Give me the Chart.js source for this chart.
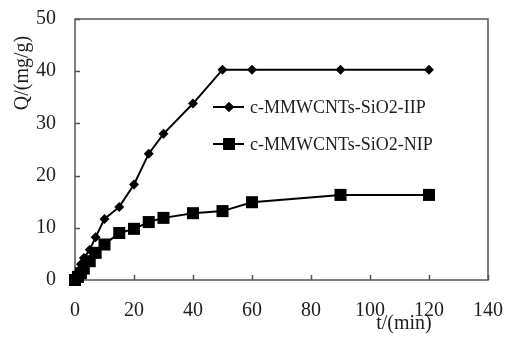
<!DOCTYPE html>
<html>
<head>
<meta charset="utf-8">
<script src="https://cdn.jsdelivr.net/npm/chart.js@4.4.1/dist/chart.umd.min.js"></script>
<style>
  html, body { margin: 0; padding: 0; background: #fff; }
  #wrap { width: 506px; height: 339px; }
</style>
</head>
<body>
<div id="wrap"><canvas id="kinChart" width="506" height="339"></canvas></div>
<script>
const times = [0, 1, 2, 3, 5, 7, 10, 15, 20, 25, 30, 40, 50, 60, 90, 120];
const iipValues = [0, 1.5, 3, 4.2, 5.8, 8.2, 11.7, 14, 18.3, 24.2, 28, 33.8, 40.3, 40.3, 40.3, 40.3];
const nipValues = [0, 0.6, 1.3, 2.2, 3.6, 5.2, 6.8, 9, 9.8, 11.1, 11.9, 12.8, 13.2, 14.9, 16.3, 16.3];
const seriesNames = ["c-MMWCNTs-SiO2-IIP", "c-MMWCNTs-SiO2-NIP"];
const xTicks = [0, 20, 40, 60, 80, 100, 120, 140];
const yTicks = [0, 10, 20, 30, 40, 50];

const FONT = "'Liberation Serif', 'Times New Roman', serif";
const TEXT = "#1e1e1e";

const toPoints = (vals) => times.map((t, i) => ({ x: t, y: vals[i] }));

// frame, inward tick marks, axis titles and legend
const decorations = {
  id: "decorations",
  beforeDatasetsDraw(chart) {
    const { ctx, chartArea: a, scales } = chart;
    ctx.save();
    ctx.strokeStyle = "#555";
    ctx.lineWidth = 1.5;
    ctx.strokeRect(a.left, a.top, a.right - a.left, a.bottom - a.top);
    ctx.beginPath();
    xTicks.forEach((v) => {
      const px = Math.round(scales.x.getPixelForValue(v)) + 0.5;
      ctx.moveTo(px, a.bottom);
      ctx.lineTo(px, a.bottom - 5);
    });
    yTicks.forEach((v) => {
      const py = Math.round(scales.y.getPixelForValue(v)) + 0.5;
      ctx.moveTo(a.left, py);
      ctx.lineTo(a.left + 5, py);
    });
    ctx.stroke();
    ctx.restore();
  },
  afterDraw(chart) {
    const { ctx } = chart;
    ctx.save();
    ctx.fillStyle = TEXT;
    ctx.font = `20px ${FONT}`;
    ctx.textAlign = "center";
    ctx.textBaseline = "middle";
    ctx.fillText("t/(min)", 404, 324);
    ctx.save();
    ctx.translate(23, 73);
    ctx.rotate(-Math.PI / 2);
    ctx.fillText("Q/(mg/g)", 0, 0);
    ctx.restore();

    // legend
    const rows = [
      { y: 107, style: "rectRot", r: 5 },
      { y: 144, style: "rect", r: 8.5 },
    ];
    ctx.font = `18px ${FONT}`;
    ctx.textAlign = "left";
    rows.forEach((row, i) => {
      ctx.strokeStyle = "#000";
      ctx.lineWidth = 2;
      ctx.beginPath();
      ctx.moveTo(213, row.y);
      ctx.lineTo(244, row.y);
      ctx.stroke();
      ctx.fillStyle = "#000";
      Chart.helpers.drawPoint(ctx, { pointStyle: row.style, radius: row.r, borderWidth: 0, rotation: 0 }, 229, row.y);
      ctx.fill();
      ctx.fillStyle = TEXT;
      ctx.fillText(seriesNames[i], 250, row.y + 1);
    });
    ctx.restore();
  },
};

new Chart(document.getElementById("kinChart").getContext("2d"), {
  type: "scatter",
  data: {
    datasets: [
      {
        label: seriesNames[0],
        data: toPoints(iipValues),
        showLine: true,
        clip: false,
        borderColor: "#000",
        backgroundColor: "#000",
        borderWidth: 2,
        pointStyle: "rectRot",
        pointRadius: 5,
        pointBorderWidth: 0,
      },
      {
        label: seriesNames[1],
        data: toPoints(nipValues),
        showLine: true,
        clip: false,
        borderColor: "#000",
        backgroundColor: "#000",
        borderWidth: 2,
        pointStyle: "rect",
        pointRadius: 8.5,
        pointBorderWidth: 0,
      },
    ],
  },
  options: {
    responsive: false,
    animation: false,
    layout: { autoPadding: false, padding: { left: 0, top: 19, right: 18, bottom: 0 } },
    plugins: {
      legend: { display: false },
      tooltip: { enabled: false },
    },
    scales: {
      x: {
        type: "linear",
        min: 0,
        max: 140,
        afterBuildTicks: (scale) => { scale.ticks = xTicks.map((v) => ({ value: v })); },
        afterFit: (scale) => {
          scale.height = 59;
          scale.paddingLeft = 0;
          scale.paddingRight = 0;
        },
        grid: { display: false, drawTicks: false },
        border: { display: false },
        ticks: { color: TEXT, font: { family: FONT, size: 20 }, padding: 19, maxRotation: 0 },
      },
      y: {
        type: "linear",
        min: 0,
        max: 50,
        afterBuildTicks: (scale) => { scale.ticks = yTicks.map((v) => ({ value: v })); },
        afterFit: (scale) => {
          scale.width = 75;
          scale.paddingTop = 0;
          scale.paddingBottom = 0;
        },
        grid: { display: false, drawTicks: false },
        border: { display: false },
        ticks: { color: TEXT, font: { family: FONT, size: 20 }, padding: 19 },
      },
    },
  },
  plugins: [decorations],
});
</script>
</body>
</html>
